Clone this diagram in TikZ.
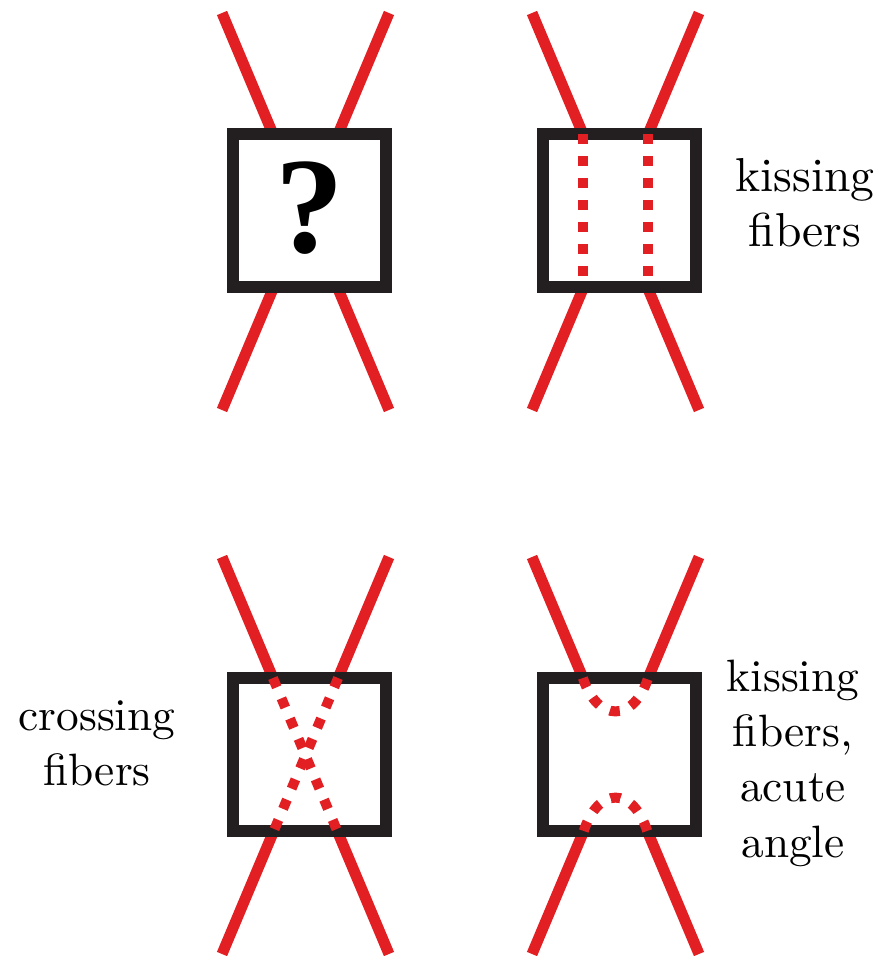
\documentclass[tikz,border=0pt]{standalone}
\usepackage{fontspec}
\newfontfamily\qfont{Liberation Serif}
\newfontfamily\capfont{lmroman10-regular}[Extension=.otf]
\usepackage{tikz}
\usetikzlibrary{calc}
\definecolor{fibred}{RGB}{226,32,36}
\definecolor{boxblack}{RGB}{35,31,32}

\begin{document}
\begin{tikzpicture}[x=0.02cm,y=-0.02cm,
  fiber/.style={draw=fibred,line width=0.22cm},
  dots/.style={draw=fibred,line width=0.2cm,dash pattern=on 0.2cm off 0.24cm},
  voxel/.style={draw=boxblack,fill=white,line width=0.24cm,minimum size=3.06cm,inner sep=0pt,outer sep=0pt},
  caption/.style={align=center,font=\capfont\fontsize{25.8}{31.5}\selectfont}]
\useasboundingbox (0,0) rectangle (886,956);
% the four voxels with their two fibers
\foreach \name/\cx/\cy in {a/305.5/211.5,b/615.5/211.5,c/305.5/755.5,d/615.5/755.5}{
  \begin{scope}[shift={(\cx,\cy)}]
    \coordinate (\name-nw) at (-83.5,-198.5);
    \coordinate (\name-ne) at (83.5,-198.5);
    \coordinate (\name-sw) at (-83.5,198.5);
    \coordinate (\name-se) at (83.5,198.5);
    \draw[fiber] (\name-nw) -- (\name-se);
    \draw[fiber] (\name-ne) -- (\name-sw);
    \node[voxel] (\name-box) at (4,-1) {};
    \coordinate (\name-tl) at (intersection of \name-nw--\name-se and \name-box.north west--\name-box.north east);
    \coordinate (\name-tr) at (intersection of \name-ne--\name-sw and \name-box.north west--\name-box.north east);
    \coordinate (\name-bl) at (intersection of \name-ne--\name-sw and \name-box.south west--\name-box.south east);
    \coordinate (\name-br) at (intersection of \name-nw--\name-se and \name-box.south west--\name-box.south east);
  \end{scope}
}
\node[anchor=base,font=\qfont\bfseries\fontsize{78}{78}\selectfont] (qmark) at ($(a-box.center)+(0,42.5)$) {?};
% kissing
\draw[dots] (b-tl) -- ++(0,152.5);
\draw[dots] (b-tr) -- ++(0,152.5);
% crossing
\draw[dots] (c-tl) -- (c-br);
\draw[dots] (c-tr) -- (c-bl);
% kissing, acute angle
\draw[dots] (d-tl) .. controls +(14.6,44.5) and +(-14.6,44.5) .. (d-tr);
\draw[dots] (d-bl) .. controls +(14.6,-44.5) and +(-14.6,-44.5) .. (d-br);

\node[caption,font=\capfont\fontsize{27.1}{31.2}\selectfont] (kisslabel) at (805,203) {kissing\\fibers};
\node[caption] (crosslabel) at (97,743.5) {crossing\\fibers};
\node[caption] (acutelabel) at (793,763) {kissing\\fibers,\\acute\\angle};
\end{tikzpicture}
\end{document}
